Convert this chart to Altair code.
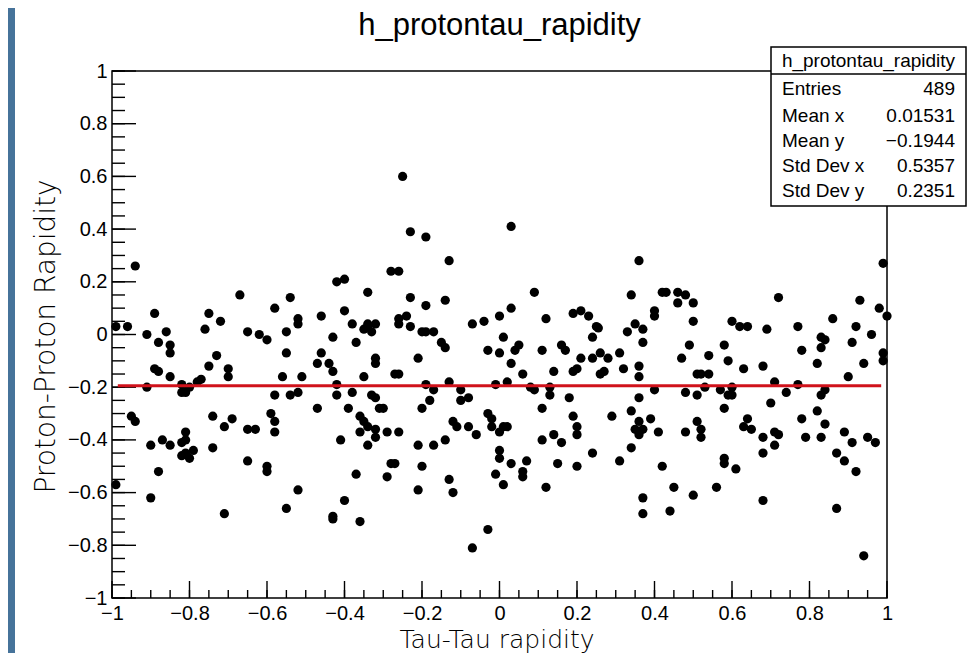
import altair as alt
import pandas as pd

# ---------------- data ----------------
chart_title = "h_protontau_rapidity"
x_title = "Tau-Tau rapidity"
y_title = "Proton-Proton Rapidity"

pts = [
(-0.99,0.03),(-0.96,0.03),(-0.94,0.26),(-0.99,-0.57),(-0.95,-0.31),(-0.94,-0.33),(-0.91,-0.20),(-0.91,0.0),
(-0.89,0.08),(-0.90,-0.42),(-0.90,-0.62),(-0.88,-0.52),(-0.88,-0.03),(-0.89,-0.13),(-0.88,-0.14),(-0.86,0.01),
(-0.85,-0.04),(-0.85,-0.07),(-0.85,-0.16),(-0.87,-0.40),(-0.85,-0.42),(-0.82,-0.41),(-0.81,-0.40),(-0.82,-0.19),
(-0.82,-0.22),(-0.81,-0.22),(-0.80,-0.20),(-0.81,-0.45),(-0.81,-0.37),(-0.82,-0.46),(-0.80,-0.47),(-0.79,-0.44),
(-0.78,-0.18),(-0.77,-0.17),(-0.76,0.02),(-0.75,0.08),(-0.75,-0.12),(-0.73,-0.08),(-0.74,-0.31),(-0.74,-0.43),
(-0.72,0.05),(-0.71,-0.35),(-0.71,-0.68),(-0.70,-0.13),(-0.70,-0.16),(-0.69,-0.32),(-0.67,0.15),(-0.65,0.01),
(-0.65,-0.48),(-0.65,-0.36),(-0.63,-0.36),(-0.62,0.0),(-0.60,-0.50),(-0.60,-0.02),(-0.60,-0.52),(-0.58,-0.23),
(-0.59,-0.30),(-0.58,-0.33),(-0.58,-0.37),(-0.58,0.10),(-0.56,-0.16),(-0.55,-0.66),(-0.55,0.01),(-0.54,0.14),
(-0.55,-0.07),(-0.54,-0.23),(-0.52,0.06),(-0.52,0.04),(-0.52,-0.22),(-0.52,-0.59),(-0.51,-0.16),(-0.47,-0.28),
(-0.47,-0.11),(-0.46,-0.07),(-0.46,0.07),(-0.44,-0.11),(-0.43,-0.14),(-0.43,-0.70),(-0.43,-0.69),(-0.43,-0.01),
(-0.42,0.20),(-0.42,-0.19),(-0.42,-0.23),(-0.41,-0.40),(-0.40,0.21),(-0.40,0.09),(-0.40,-0.63),(-0.39,-0.28),
(-0.38,0.04),(-0.38,-0.22),(-0.37,-0.03),(-0.37,-0.53),(-0.36,-0.71),(-0.36,-0.31),(-0.35,-0.33),(-0.36,-0.37),
(-0.35,0.02),(-0.34,0.03),(-0.34,0.16),(-0.34,0.04),(-0.33,0.01),(-0.35,-0.16),(-0.34,-0.35),(-0.34,-0.42),
(-0.33,-0.23),(-0.32,-0.24),(-0.32,-0.09),(-0.32,-0.11),(-0.32,-0.39),(-0.32,-0.36),(-0.32,0.04),(-0.31,-0.28),
(-0.30,-0.28),(-0.29,-0.54),(-0.29,-0.37),(-0.28,0.24),(-0.28,-0.49),(-0.27,-0.49),(-0.27,-0.15),(-0.26,-0.15),
(-0.26,0.24),(-0.26,0.06),(-0.26,0.04),(-0.26,-0.37),(-0.25,0.60),(-0.24,0.07),(-0.23,0.14),(-0.23,0.03),
(-0.23,0.39),(-0.21,-0.42),(-0.21,-0.59),(-0.21,-0.09),(-0.20,0.01),(-0.20,-0.50),(-0.20,-0.28),(-0.19,0.11),
(-0.19,0.37),(-0.19,0.01),(-0.19,-0.19),(-0.18,-0.25),(-0.17,0.01),(-0.17,-0.42),(-0.17,-0.21),(-0.15,-0.03),
(-0.14,-0.05),(-0.14,0.13),(-0.14,-0.40),(-0.13,-0.18),(-0.13,0.28),(-0.13,-0.55),(-0.12,-0.33),(-0.12,-0.60),
(-0.11,-0.35),(-0.10,-0.21),(-0.10,-0.25),(-0.08,-0.35),(-0.08,-0.24),(-0.07,-0.81),(-0.07,0.04),(-0.06,-0.38),
(-0.04,0.05),(-0.03,-0.74),(-0.03,-0.06),(-0.03,-0.30),(-0.02,-0.32),(-0.02,-0.35),(-0.01,-0.53),(0.00,-0.07),
(-0.01,-0.19),(0.00,0.07),(0.00,-0.47),(0.00,-0.44),(0.01,-0.57),(0.00,-0.37),(0.01,-0.01),(0.01,-0.35),
(0.02,-0.18),(0.02,-0.35),(0.03,0.41),(0.03,0.10),(0.03,-0.11),(0.03,-0.49),(0.04,-0.06),(0.05,-0.04),
(0.06,-0.54),(0.06,-0.52),(0.06,-0.15),(0.07,-0.48),(0.08,-0.20),(0.09,0.16),(0.09,-0.21),(0.11,-0.06),
(0.12,0.06),(0.11,-0.28),(0.11,-0.40),(0.12,-0.58),(0.13,-0.23),(0.13,-0.20),(0.14,-0.38),(0.14,-0.14),
(0.15,-0.49),(0.16,-0.04),(0.16,-0.41),(0.17,-0.06),(0.18,-0.24),(0.19,-0.31),(0.19,-0.14),(0.19,0.08),
(0.20,-0.50),(0.20,-0.35),(0.20,-0.38),(0.21,0.09),(0.20,-0.13),(0.21,-0.09),(0.23,0.07),(0.24,-0.45),
(0.24,-0.01),(0.24,-0.09),(0.25,0.03),(0.255,0.025),(0.26,-0.15),(0.26,-0.07),(0.27,-0.14),(0.28,-0.09),
(0.29,-0.31),(0.31,-0.07),(0.31,-0.48),(0.32,-0.13),(0.33,0.01),(0.34,-0.29),(0.34,-0.43),(0.35,-0.36),
(0.34,0.15),(0.35,0.04),(0.36,0.28),(0.36,-0.12),(0.36,-0.16),(0.36,-0.33),(0.36,-0.38),(0.36,-0.24),
(0.37,-0.62),(0.37,-0.03),(0.37,0.02),(0.37,-0.36),(0.37,-0.68),(0.39,-0.32),(0.40,0.07),(0.40,0.09),
(0.40,-0.21),(0.41,-0.37),(0.42,0.16),(0.42,-0.50),(0.43,0.16),(0.44,-0.67),(0.45,-0.58),(0.46,0.16),
(0.46,0.12),(0.47,-0.09),(0.48,-0.22),(0.48,-0.37),(0.48,0.15),(0.49,-0.04),(0.50,0.12),(0.50,0.05),
(0.50,-0.61),(0.51,-0.33),(0.51,-0.15),(0.51,-0.23),(0.52,-0.39),(0.52,-0.36),(0.52,-0.15),(0.53,-0.20),
(0.54,-0.15),(0.54,-0.08),(0.56,-0.58),(0.57,-0.21),(0.58,-0.04),(0.58,-0.28),(0.58,-0.47),(0.58,-0.49),
(0.59,-0.23),(0.59,-0.10),(0.60,-0.20),(0.60,-0.23),(0.60,0.05),(0.61,-0.51),(0.62,0.03),(0.63,-0.35),
(0.63,-0.13),(0.64,0.03),(0.64,-0.32),(0.65,-0.36),(0.68,-0.39),(0.68,-0.63),(0.68,-0.12),(0.68,-0.45),
(0.69,0.02),(0.70,-0.26),(0.71,-0.37),(0.71,-0.18),(0.71,-0.42),(0.72,0.14),(0.72,-0.38),(0.74,-0.22),
(0.77,-0.19),(0.77,0.03),(0.78,-0.06),(0.78,-0.32),(0.79,-0.39),(0.82,-0.29),(0.82,-0.11),(0.83,-0.01),
(0.83,-0.23),(0.83,-0.05),(0.84,-0.02),(0.84,-0.21),(0.83,-0.39),(0.84,-0.34),(0.86,0.06),(0.87,-0.66),
(0.87,-0.45),(0.89,-0.48),(0.89,-0.37),(0.90,-0.16),(0.91,-0.03),(0.92,-0.52),(0.91,-0.41),(0.92,0.03),
(0.93,0.13),(0.94,-0.84),(0.94,-0.11),(0.95,-0.39),(0.96,-0.00),(0.97,-0.41),(0.98,0.10),(0.99,0.27),
(1.00,0.07),(0.99,-0.07),(0.99,-0.10),
]
tau_rapidity = [p[0] for p in pts]
proton_rapidity = [p[1] for p in pts]

mean_line_x = [-0.985, 0.985]
mean_y = -0.1944

tick_labels = [-1.0, -0.8, -0.6, -0.4, -0.2, 0.0, 0.2, 0.4, 0.6, 0.8, 1.0]
minor_ticks = [round(-1 + 0.05 * i, 2) for i in range(41)]

stats_header = "h_protontau_rapidity"
stats_names = ["Entries", "Mean x", "Mean y", "Std Dev x", "Std Dev y"]
stats_values = ["489", "0.01531", "\u22120.1944", "0.5357", "0.2351"]

# ---------------- layout ----------------
W, H = 775, 527
PAD = {"left": 104, "top": 63, "right": 84, "bottom": 55}
BLUE = "#46739a"
LABEL_FONT = "Liberation Sans"
TITLE_FONT = "DejaVu Sans"

xs = alt.Scale(domain=[-1, 1], nice=False, zero=False)
ys = alt.Scale(domain=[-1, 1], nice=False, zero=False)

x_axis = alt.Axis(
    values=tick_labels, format="~g", ticks=False, domain=False, grid=False,
    labelFont=LABEL_FONT, labelFontSize=20, labelColor="black", labelPadding=5,
    labelFlush=False, labelOverlap=False, title=None)
y_axis = alt.Axis(
    values=tick_labels, format="~g", ticks=False, domain=False, grid=False,
    labelFont=LABEL_FONT, labelFontSize=20, labelColor="black", labelPadding=5,
    labelFlush=False, labelOverlap=False, title=None)

df = pd.DataFrame({"x": tau_rapidity, "y": proton_rapidity})

points = alt.Chart(df).mark_circle(size=85, color="black", opacity=1).encode(
    x=alt.X("x:Q", scale=xs, axis=x_axis),
    y=alt.Y("y:Q", scale=ys, axis=y_axis),
)

maj_df = pd.DataFrame({"v": tick_labels})
min_df = pd.DataFrame({"v": minor_ticks})

x_major = alt.Chart(maj_df).mark_rule(color="black", strokeWidth=1.4).encode(
    x=alt.X("v:Q", scale=xs, axis=x_axis), y=alt.value(H), y2=alt.value(H - 17))
x_minor = alt.Chart(min_df).mark_rule(color="black", strokeWidth=1.4).encode(
    x=alt.X("v:Q", scale=xs, axis=x_axis), y=alt.value(H), y2=alt.value(H - 8))
y_major = alt.Chart(maj_df).mark_rule(color="black", strokeWidth=1.4).encode(
    y=alt.Y("v:Q", scale=ys, axis=y_axis), x=alt.value(0), x2=alt.value(24))
y_minor = alt.Chart(min_df).mark_rule(color="black", strokeWidth=1.4).encode(
    y=alt.Y("v:Q", scale=ys, axis=y_axis), x=alt.value(0), x2=alt.value(13))

line_df = pd.DataFrame({"x0": [mean_line_x[0]], "x1": [mean_line_x[1]], "y": [mean_y]})
mean_line = alt.Chart(line_df).mark_rule(color="#d0121b", strokeWidth=3).encode(
    x=alt.X("x0:Q", scale=xs, axis=x_axis), x2="x1:Q", y=alt.Y("y:Q", scale=ys, axis=y_axis))

one = pd.DataFrame({"t": [0]})

blue_strip = alt.Chart(one).mark_rect(color=BLUE).encode(
    x=alt.value(-PAD["left"]), x2=alt.value(-97),
    y=alt.value(-PAD["top"]), y2=alt.value(H + PAD["bottom"]))


def text_layer(txt, x, y, size, font, align="center", baseline="alphabetic", angle=0, weight="normal"):
    return alt.Chart(pd.DataFrame({"t": [txt]})).mark_text(
        font=font, fontSize=size, align=align, baseline=baseline, angle=angle,
        color="black", fontWeight=weight).encode(
        text="t:N", x=alt.value(x), y=alt.value(y))


title_t = text_layer(chart_title, W / 2, -36, 31, LABEL_FONT)
xtitle_t = text_layer(x_title, 385, 577, 25, TITLE_FONT, weight=300)
ytitle_t = text_layer(y_title, -65, H / 2 + 2, 28, TITLE_FONT, baseline="middle", angle=270, weight=300)

# stats box
BX0, BX1, BY0, BYH, BY1 = 659, 854, -24, 3, 135
box = alt.Chart(one).mark_rect(fill="white", stroke="black", strokeWidth=1.5).encode(
    x=alt.value(BX0), x2=alt.value(BX1), y=alt.value(BY0), y2=alt.value(BY1))
box_sep = alt.Chart(one).mark_rule(color="black", strokeWidth=1.5).encode(
    x=alt.value(BX0), x2=alt.value(BX1), y=alt.value(BYH))

stat_layers = [text_layer(stats_header, (BX0 + BX1) / 2, -4, 19, LABEL_FONT)]
row_y = [24, 51, 76, 101, 126]
for name, val, ry in zip(stats_names, stats_values, row_y):
    stat_layers.append(text_layer(name, 670, ry, 19, LABEL_FONT, align="left"))
    stat_layers.append(text_layer(val, 843, ry, 19, LABEL_FONT, align="right"))

chart = alt.layer(
    blue_strip, points, x_minor, x_major, y_minor, y_major, mean_line,
    title_t, xtitle_t, ytitle_t, box, box_sep, *stat_layers
).properties(
    width=W, height=H,
    autosize=alt.AutoSizeParams(type="none"),
    padding=PAD,
).configure(background="white").configure_view(stroke="black", strokeWidth=1.5)

chart.save("out.html", embed_options={"renderer": "svg", "actions": False})
